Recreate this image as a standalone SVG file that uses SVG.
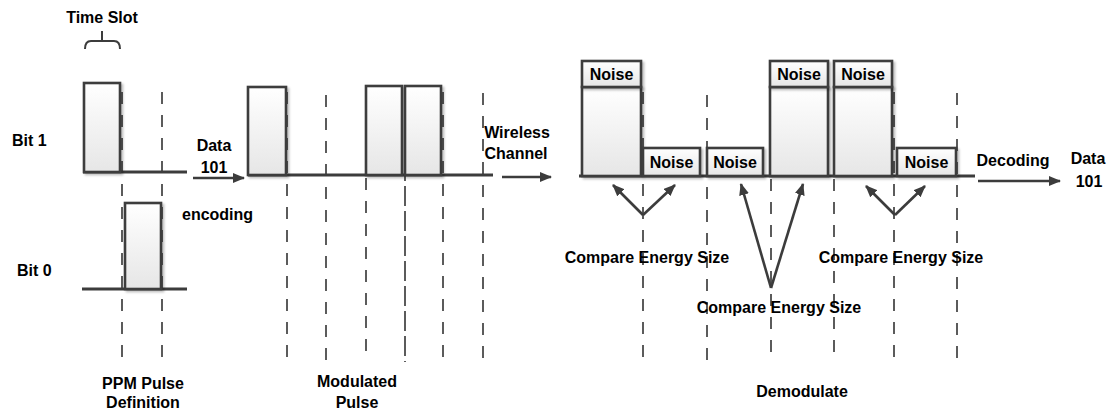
<svg xmlns="http://www.w3.org/2000/svg" width="1114" height="410" viewBox="0 0 1114 410">
<defs>
<linearGradient id="pf" x1="0" y1="0" x2="0" y2="1">
<stop offset="0" stop-color="#ffffff"/>
<stop offset="1" stop-color="#e6e6e6"/>
</linearGradient>
<filter id="sh" x="-20%" y="-20%" width="140%" height="140%">
<feDropShadow dx="2" dy="2" stdDeviation="1.2" flood-color="#000" flood-opacity="0.25"/>
</filter>
<marker id="ah" viewBox="0 0 12 10" refX="11" refY="5" markerWidth="12" markerHeight="10" markerUnits="userSpaceOnUse" orient="auto">
<path d="M0,0 L12,5 L0,10 Z" fill="#3c3c3c"/>
</marker>
</defs>
<style>
.t{font-family:"Liberation Sans",Arial,sans-serif;font-weight:bold;font-size:16px;fill:#000}
.m{text-anchor:middle}
.p{fill:url(#pf);stroke:#3c3c3c;stroke-width:2.6;filter:url(#sh)}
.b{fill:none;stroke:#3c3c3c;stroke-width:3}
.d{fill:none;stroke:#4a4a4a;stroke-width:1.8;stroke-dasharray:12 11}
.d2{fill:none;stroke:#4a4a4a;stroke-width:1.8;stroke-dasharray:20 5}
.a{fill:none;stroke:#3c3c3c;stroke-width:2.6;marker-end:url(#ah)}
</style>

<g id="connectors">
<line class="d" x1="122" y1="92" x2="122" y2="358"/>
<line class="d" x1="162" y1="92" x2="162" y2="358"/>
<line class="d" x1="287" y1="92" x2="287" y2="362"/>
<line class="d" x1="326" y1="95" x2="326" y2="362"/>
<line class="d" x1="366" y1="86" x2="366" y2="362"/>
<line class="d2" x1="405" y1="86" x2="405" y2="362"/>
<line class="d" x1="443" y1="92" x2="443" y2="362"/>
<line class="d" x1="483" y1="93" x2="483" y2="362"/>
<line class="d" x1="643" y1="92" x2="643" y2="362"/>
<line class="d" x1="707" y1="95" x2="707" y2="362"/>
<line class="d" x1="771" y1="64" x2="771" y2="362"/>
<line class="d" x1="834" y1="64" x2="834" y2="362"/>
<line class="d" x1="894" y1="92" x2="894" y2="362"/>
<line class="d" x1="957" y1="93" x2="957" y2="362"/>
<line class="b" x1="83" y1="172" x2="187" y2="172"/>
<line class="b" x1="82" y1="289" x2="187" y2="289"/>
<line class="b" x1="248" y1="175" x2="493" y2="175"/>
<line class="b" x1="579" y1="176" x2="975" y2="176"/>
<line class="a" x1="193" y1="178" x2="244" y2="178"/>
<line class="a" x1="502" y1="177" x2="551" y2="177"/>
<line class="a" x1="978" y1="181" x2="1060" y2="181"/>
<line class="a" x1="643" y1="215" x2="613" y2="185"/>
<line class="a" x1="643" y1="215" x2="675" y2="185"/>
<line class="a" x1="771" y1="288" x2="741" y2="184"/>
<line class="a" x1="771" y1="288" x2="803" y2="184"/>
<line class="a" x1="895" y1="215" x2="866" y2="186"/>
<line class="a" x1="895" y1="215" x2="925" y2="186"/>
<path d="M85,49 Q85,41 91,41 L114,41 Q120,41 120,49 M102,41 L102,31" fill="none" stroke="#3c3c3c" stroke-width="2"/>
</g>

<g id="ppm-bit1"><rect class="p" x="84" y="83" width="36" height="89"/></g>
<g id="ppm-bit0"><rect class="p" x="125" y="203" width="36" height="86"/></g>

<g id="mod-pulse1"><rect class="p" x="248" y="87" width="38" height="88"/></g>
<g id="mod-pulse2"><rect class="p" x="366" y="86" width="36" height="89"/></g>
<g id="mod-pulse3"><rect class="p" x="405" y="86" width="36" height="89"/></g>

<g id="rx-pulse1">
<rect class="p" x="582" y="87" width="59" height="89"/>
<rect class="p" x="582" y="61" width="59" height="26"/>
<text class="t m" x="611.5" y="80">Noise</text>
</g>
<g id="rx-noise1">
<rect class="p" x="643" y="148" width="57" height="28"/>
<text class="t m" x="671.5" y="168">Noise</text>
</g>
<g id="rx-noise2">
<rect class="p" x="707" y="148" width="56" height="28"/>
<text class="t m" x="735" y="168">Noise</text>
</g>
<g id="rx-pulse2">
<rect class="p" x="770" y="87" width="58" height="89"/>
<rect class="p" x="770" y="61" width="58" height="26"/>
<text class="t m" x="799" y="80">Noise</text>
</g>
<g id="rx-pulse3">
<rect class="p" x="834" y="87" width="58" height="89"/>
<rect class="p" x="834" y="61" width="58" height="26"/>
<text class="t m" x="863" y="80">Noise</text>
</g>
<g id="rx-noise3">
<rect class="p" x="897" y="148" width="59" height="28"/>
<text class="t m" x="926.5" y="168">Noise</text>
</g>

<g id="labels">
<text class="t m" x="102" y="23">Time Slot</text>
<text class="t" x="12" y="146">Bit 1</text>
<text class="t" x="17" y="276">Bit 0</text>
<text class="t m" x="214" y="151">Data</text>
<text class="t m" x="214" y="173">101</text>
<text class="t" x="182" y="220">encoding</text>
<text class="t m" x="143" y="389">PPM Pulse</text>
<text class="t m" x="143" y="408">Definition</text>
<text class="t m" x="357" y="387">Modulated</text>
<text class="t m" x="357" y="408">Pulse</text>
<text class="t m" x="517" y="138">Wireless</text>
<text class="t m" x="516" y="159">Channel</text>
<text class="t m" x="647" y="263">Compare Energy Size</text>
<text class="t m" x="779" y="313">Compare Energy Size</text>
<text class="t m" x="901" y="263">Compare Energy Size</text>
<text class="t m" x="802" y="397">Demodulate</text>
<text class="t m" x="1013" y="166">Decoding</text>
<text class="t m" x="1088" y="164">Data</text>
<text class="t m" x="1089" y="187">101</text>
</g>
</svg>
